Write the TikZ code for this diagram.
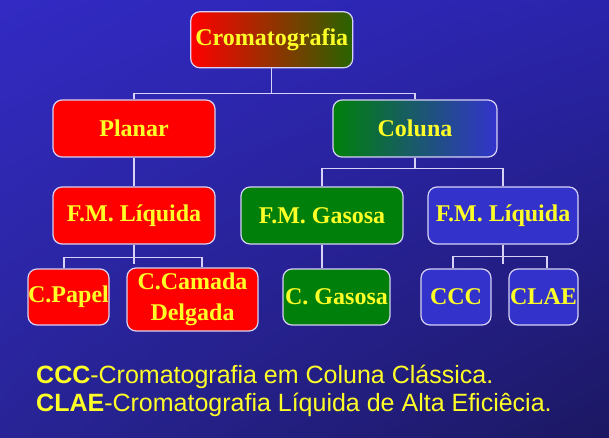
\documentclass[tikz,border=0pt]{standalone}
\usepackage{fontspec}
\setmainfont{Liberation Serif}
\setsansfont{Liberation Sans}
\usetikzlibrary{positioning,calc,shadings}
\definecolor{bgtl}{RGB}{50,42,195}
\definecolor{bgtr}{RGB}{42,36,172}
\definecolor{bgbl}{RGB}{40,36,150}
\definecolor{bgbr}{RGB}{28,24,98}
\definecolor{boxred}{RGB}{255,0,0}
\definecolor{boxgreen}{RGB}{0,128,10}
\definecolor{boxblue}{RGB}{51,51,204}
\definecolor{cromgreen}{RGB}{40,100,0}
\definecolor{label}{RGB}{255,255,40}
\definecolor{edge}{RGB}{215,210,245}

\begin{document}
\begin{tikzpicture}[
x=1pt, y=-1pt,
box/.style = {draw=edge, line width=1.2pt, rounded corners=9pt,
              minimum height=57pt, inner sep=0pt, align=center,
              text=label, font=\fontsize{24}{31}\selectfont\bfseries},
redbox/.style = {box, fill=boxred},
greenbox/.style = {box, fill=boxgreen},
bluebox/.style = {box, fill=boxblue},
leaf/.style = {minimum height=56pt},
link/.style = {draw=edge, line width=1.2pt},
note/.style = {anchor=base west, inner sep=0pt, text=label,
               font=\sffamily\fontsize{25}{29}\selectfont}
                ]
\useasboundingbox (0,0) rectangle (609,438);
\shade[upper left=bgtl, upper right=bgtr, lower left=bgbl, lower right=bgbr]
    (0,0) rectangle (609,438);

%% top and second level
\node (crom) [box, left color=boxred, right color=cromgreen,
              minimum width=162pt, minimum height=56pt] at (271.75,39.75) {Cromatografia};
\node (planar) [redbox, minimum width=162pt] at (134,128.5) {Planar};
\node (coluna) [box, left color=boxgreen, right color=boxblue,
                minimum width=164pt] at (415,128.5) {Coluna};

%% third level
\node (fml) [redbox, minimum width=162pt] at (134,215.5) {F.M. Líquida};
\node (fmg) [greenbox, minimum width=162pt] at (322,215.5) {F.M. Gasosa};
\node (fmb) [bluebox, minimum width=150pt] at (503,215.5) {F.M. Líquida};

%% leaves
\node (papel) [redbox, leaf, minimum width=81pt] at (68.5,297) {C.Papel};
\node (camada) [redbox, minimum width=131pt, minimum height=63pt] at (192.5,299.5) {C.Camada\\Delgada};
\node (cgas) [greenbox, leaf, minimum width=107pt] at (336.5,297) {C. Gasosa};
\node (ccc) [bluebox, leaf, minimum width=70pt] at (456,297) {CCC};
\node (clae) [bluebox, leaf, minimum width=69pt] at (543.5,297) {CLAE};

%% connectors
\draw[link] (crom.south) -- ++(0,25.5) coordinate (top);
\draw[link] (planar.north) |- (top) -| (coluna.north);
\draw[link] (planar.south) -- (fml.north);
\draw[link] (fml.south) -- ++(0,19);
\coordinate (rbus) at ($(fml.south)+(0,13)$);
\draw[link] ([xshift=-4.5pt]papel.north) |- (rbus) -| ([xshift=9.5pt]camada.north);
\draw[link] (coluna.south) -- ++(0,11) coordinate (cbus);
\draw[link] (fmg.north) |- (cbus) -| (fmb.north);
\draw[link] (fmg.south) -- (fmg.south |- cgas.north);
\draw[link] (fmb.south) -- ++(0,19);
\coordinate (bbus) at ($(fmb.south)+(0,12)$);
\draw[link] ([xshift=-3pt]ccc.north) |- (bbus) -| ([xshift=3.5pt]clae.north);

%% legend
\node (n1) [note] at (36,383) {\textbf{CCC}-Cromatografia em Coluna Clássica.};
\node (n2) [note] at (36,411) {\textbf{CLAE}-Cromatografia Líquida de Alta Eficiêcia.};
\end{tikzpicture}
\end{document}
